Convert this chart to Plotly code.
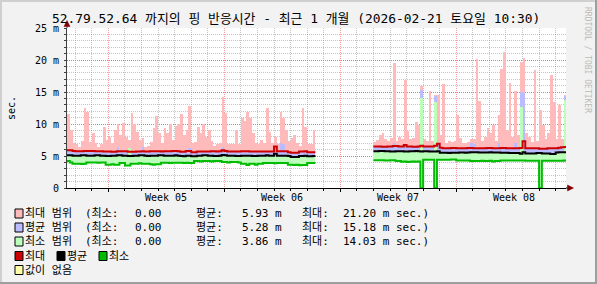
import numpy as np
import pandas as pd
import plotly.graph_objects as go

# ---------------- data (values in milliseconds, 4-hour bins) ----------------
seg1_start = "2026-01-23 12:00"
seg2_start = "2026-02-11 00:00"
bin_hours = 4

pink1 = [11.6, 9.0, 7.0, 6.8, 6.4, 7.4, 12.5, 11.8, 7.2, 8.6,
         7.0, 6.4, 6.8, 9.5, 7.5, 8.0, 7.0, 9.0, 10.0, 8.3,
         10.2, 8.0, 7.5, 11.7, 10.0, 8.8, 7.5, 7.8, 6.4, 6.5,
         7.2, 9.4, 11.2, 8.6, 7.0, 9.4, 8.6, 10.0, 7.5, 9.7,
         10.0, 11.5, 8.3, 9.0, 12.8, 7.0, 7.2, 9.5, 8.6, 10.0,
         8.0, 9.0, 7.3, 6.5, 6.8, 7.0, 14.2, 11.7, 6.8, 6.8,
         6.8, 9.0, 6.8, 11.0, 10.5, 11.9, 11.0, 8.6, 7.0, 6.8,
         7.5, 7.0, 12.5, 8.8, 7.0, 8.0, 6.8, 11.9, 11.0, 9.0,
         7.3, 7.8, 8.3, 7.0, 6.5, 12.5, 9.5, 6.8, 6.8, 9.0]
red1 = [5.9, 5.9, 5.8, 5.75, 5.75, 5.75, 5.8, 5.8, 5.8, 5.8,
        5.75, 5.75, 5.75, 5.7, 5.7, 5.7, 5.65, 5.65, 5.75, 5.75,
        5.75, 5.75, 5.65, 5.65, 5.65, 5.7, 5.7, 5.75, 5.7, 5.7,
        5.75, 5.75, 5.75, 5.75, 5.7, 5.75, 5.75, 5.75, 5.8, 5.8,
        5.75, 5.65, 5.65, 5.8, 5.8, 5.6, 5.6, 5.7, 5.7, 5.7,
        5.7, 5.7, 5.75, 5.75, 5.7, 5.75, 5.9, 5.8, 5.7, 5.7,
        5.7, 5.7, 5.7, 5.75, 5.75, 5.75, 5.7, 5.7, 5.7, 5.7,
        5.7, 5.7, 5.7, 5.7, 5.7, 6.5, 5.75, 5.75, 5.75, 5.75,
        5.6, 5.5, 5.5, 5.5, 5.7, 5.7, 5.75, 5.6, 5.6, 5.6]
black1 = [5.1, 5.1, 5.05, 5.05, 5.05, 5.1, 5.1, 5.05, 5.05, 5.05,
          5.1, 5.1, 5.05, 5.05, 5.0, 5.0, 5.05, 5.05, 5.1, 5.1,
          5.05, 5.05, 5.0, 5.0, 5.05, 5.05, 5.1, 5.1, 5.05, 5.0,
          5.05, 5.05, 5.05, 5.1, 5.1, 5.05, 5.05, 5.05, 5.05, 5.1,
          5.05, 5.0, 4.95, 5.05, 5.05, 4.95, 4.95, 5.05, 5.05, 5.1,
          5.1, 5.05, 5.05, 5.0, 5.0, 5.05, 5.15, 5.1, 5.05, 5.05,
          5.05, 5.0, 5.0, 5.05, 5.05, 5.05, 5.05, 5.0, 5.0, 5.05,
          5.05, 5.05, 5.1, 5.05, 5.05, 5.35, 5.05, 5.05, 5.05, 5.05,
          5.0, 4.85, 4.85, 4.85, 5.0, 5.0, 5.05, 4.95, 4.95, 5.0]
green1 = [4.2, 4.0, 3.8, 3.8, 3.8, 3.75, 3.8, 4.0, 4.0, 4.0,
          4.0, 3.95, 4.0, 4.0, 3.65, 3.65, 3.7, 3.65, 3.65, 3.9,
          3.9, 3.5, 3.5, 3.8, 3.8, 3.8, 3.85, 3.8, 3.8, 3.8,
          3.7, 3.65, 3.7, 3.7, 3.95, 3.95, 3.95, 3.9, 3.95, 3.95,
          3.95, 3.95, 3.9, 3.95, 3.9, 3.9, 4.2, 4.2, 4.15, 4.2,
          4.2, 4.2, 4.15, 4.2, 4.2, 4.2, 4.05, 4.05, 4.0, 4.05,
          4.05, 4.05, 4.0, 3.8, 3.8, 3.6, 3.8, 3.8, 3.65, 3.8,
          3.8, 3.9, 3.9, 3.9, 3.9, 3.85, 3.9, 3.9, 3.9, 3.9,
          3.65, 3.65, 3.6, 3.65, 3.55, 3.6, 3.6, 3.9, 3.9, 3.9]
lav_spike_bins1 = [18, 27, 44, 56, 77, 78]
lav_spike_vals1 = [6.4, 6.4, 6.3, 6.4, 7.0, 6.8]
grn_spike_bins1 = [22]
grn_spike_vals1 = [6.3]

pink2 = [7.2, 7.5, 8.3, 8.6, 7.6, 7.4, 7.8, 19.5, 7.4, 8.0,
         7.6, 16.9, 8.9, 7.6, 7.8, 10.3, 9.8, 15.9, 7.6, 7.4,
         15.2, 7.4, 14.6, 14.5, 8.3, 16.2, 7.0, 7.4, 7.2, 7.4,
         11.4, 7.8, 7.0, 7.0, 7.2, 7.7, 7.7, 20.1, 13.6, 7.4,
         8.0, 9.4, 8.6, 9.8, 7.4, 11.4, 18.6, 21.2, 9.0, 16.4,
         8.0, 15.1, 8.3, 19.7, 20.3, 8.6, 8.0, 7.2, 18.4, 7.4,
         12.2, 9.8, 7.6, 8.6, 17.7, 13.5, 7.7, 13.0, 7.7, 14.5]
red2 = [6.5, 6.5, 6.5, 6.45, 6.45, 6.5, 6.5, 6.55, 6.55, 6.5,
        6.5, 6.7, 6.5, 6.5, 6.45, 6.45, 6.5, 6.6, 6.5, 6.5,
        6.5, 6.5, 6.6, 6.9, 6.3, 6.2, 6.2, 6.2, 6.25, 6.25,
        6.2, 6.2, 6.2, 6.2, 6.25, 6.25, 6.2, 6.2, 6.2, 6.2,
        6.2, 6.25, 6.25, 6.2, 6.2, 6.2, 6.25, 6.25, 6.2, 6.2,
        6.2, 6.2, 6.2, 6.25, 7.3, 6.2, 6.2, 6.2, 6.2, 6.2,
        6.15, 6.15, 6.15, 6.2, 6.2, 6.2, 6.2, 6.3, 6.35, 6.4]
black2 = [5.75, 5.75, 5.8, 5.8, 5.75, 5.75, 5.7, 5.7, 5.75, 5.75,
          5.75, 5.7, 5.7, 5.75, 5.75, 5.8, 5.75, 5.7, 5.75, 5.75,
          5.7, 5.7, 5.7, 5.75, 5.5, 5.5, 5.5, 5.45, 5.5, 5.5,
          5.5, 5.55, 5.55, 5.5, 5.55, 5.6, 5.6, 5.6, 5.55, 5.55,
          5.55, 5.55, 5.6, 5.55, 5.55, 5.55, 5.5, 5.5, 5.5, 5.45,
          5.45, 5.45, 5.45, 5.35, 5.6, 5.4, 5.4, 5.4, 5.4, 5.45,
          5.45, 5.4, 5.4, 5.4, 5.3, 5.3, 5.55, 5.6, 5.6, 5.6]
green2 = [4.35, 4.35, 4.35, 4.35, 4.3, 4.3, 4.35, 4.35, 4.2, 4.2,
          4.1, 4.15, 4.05, 4.1, 4.15, 4.1, 4.15, 0.0, 4.4, 4.4,
          4.4, 4.4, 0.0, 4.4, 4.4, 4.4, 4.4, 4.4, 4.45, 4.45,
          4.3, 4.3, 4.3, 4.3, 4.3, 4.2, 4.2, 4.2, 4.2, 4.25,
          4.2, 4.2, 4.25, 4.15, 4.2, 4.2, 4.3, 4.3, 4.3, 4.3,
          4.3, 4.3, 4.3, 4.3, 4.3, 4.25, 4.25, 4.25, 4.25, 4.25,
          0.0, 4.25, 4.25, 4.25, 4.25, 4.25, 4.25, 4.25, 4.25, 4.3]
lav_spike_bins2 = [7, 17, 22, 35, 36, 45, 51, 53, 54, 69]
lav_spike_vals2 = [7.0, 15.3, 14.3, 7.0, 6.9, 7.1, 7.0, 15.0, 14.8, 14.3]
grn_spike_bins2 = [17, 22, 53, 69]
grn_spike_vals2 = [14.0, 13.4, 12.7, 13.8]

# axis / labels
x_range = ["2026-01-23 12:00", "2026-02-22 15:00"]
week_start = "2026-01-26"
week_label_pos = ["2026-01-29 12:00", "2026-02-05 12:00", "2026-02-12 12:00", "2026-02-19 12:00"]
week_labels = ["Week 05", "Week 06", "Week 07", "Week 08"]
y_tickvals = [0, 5, 10, 15, 20, 25]
y_ticktext = ["0", "5 m", "10 m", "15 m", "20 m", "25 m"]

title_text = "52.79.52.64 까지의 핑 반응시간 - 최근 1 개월 (2026-02-21 토요일 10:30)"
range_names = ["최대 범위", "평균 범위", "최소 범위"]
stat_min = ["0.00", "0.00", "0.00"]
stat_avg = ["5.93 m", "5.28 m", "3.86 m"]
stat_max = ["21.20 m", "15.18 m", "14.03 m"]
line_names = ["최대", "평균", "최소"]
nodata_name = "값이 없음"

# ---------------- styles ----------------
C_PINK, C_LAV, C_LGRN = "#FFBBBB", "#BBBBFF", "#BBFFBB"
C_RED, C_BLK, C_GRN, C_YEL = "#CC0000", "#000000", "#00BB00", "#FFFFAA"
MONO = "DejaVu Sans Mono, Noto Sans CJK KR, monospace"
W, H = 597, 284
L, R, T, B = 67, 31, 28, 96
PW, PH = W - L - R, H - T - B


def px(x):
    return (x - L) / PW


def py(y):
    return (T + PH - y) / PH


step = pd.Timedelta(hours=bin_hours)
x1 = pd.date_range(seg1_start, periods=len(pink1), freq=step)
x2 = pd.date_range(seg2_start, periods=len(pink2), freq=step)


def tops(base, bins, vals):
    a = np.array(base, dtype=float)
    for b, v in zip(bins, vals):
        a[b] = max(a[b], v)
    return a


lav1 = tops(red1, lav_spike_bins1, lav_spike_vals1)
lav2 = tops(red2, lav_spike_bins2, lav_spike_vals2)
gt1 = tops(black1, grn_spike_bins1, grn_spike_vals1)
gt2 = tops(black2, grn_spike_bins2, grn_spike_vals2)

xb = list(x1) + list(x2)
blk = np.array(black1 + black2)
grn = np.array(green1 + green2)
pink = np.array(pink1 + pink2)
lav = np.concatenate([lav1, lav2])
gtop = np.concatenate([gt1, gt2])

fig = go.Figure()
bw = step.total_seconds() * 1000
fig.add_bar(x=xb, y=pink - blk, base=blk, width=bw, offset=0,
            marker=dict(color=C_PINK, line=dict(width=0)))
fig.add_bar(x=xb, y=lav - blk, base=blk, width=bw, offset=0,
            marker=dict(color=C_LAV, line=dict(width=0)))
fig.add_bar(x=xb, y=gtop - grn, base=grn, width=bw, offset=0,
            marker=dict(color=C_LGRN, line=dict(width=0)))


def step_line(v1, v2):
    xs = list(x1) + [x1[-1] + step, None] + list(x2) + [x2[-1] + step]
    ys = list(v1) + [v1[-1], None] + list(v2) + [v2[-1]]
    return xs, ys


for a1, a2, col in [(green1, green2, C_GRN), (black1, black2, C_BLK), (red1, red2, C_RED)]:
    xs, ys = step_line(a1, a2)
    fig.add_scatter(x=xs, y=ys, mode="lines", line=dict(color=col, width=2, shape="hv"),
                    connectgaps=False)

GRID = "rgba(150,150,150,0.55)"
MGRID = "rgba(230,60,60,0.5)"

fig.update_layout(
    width=W, height=H, margin=dict(l=L, r=R, t=T, b=B),
    paper_bgcolor="#F2F2F2", plot_bgcolor="#FFFFFF",
    showlegend=False, barmode="overlay", bargap=0,
    font=dict(family=MONO, size=10, color="#000000"),
    title=dict(text=title_text, x=0.496, xref="container", xanchor="center",
               y=1 - 18.5 / H, yref="container", yanchor="middle",
               font=dict(family=MONO, size=12.9, color="#000000")),
    xaxis=dict(type="date", range=x_range, showticklabels=False,
               tick0=week_start, dtick=7 * 86400000,
               showgrid=True, gridcolor=MGRID, griddash="1px,1px", gridwidth=1,
               ticks="outside", ticklen=3, tickcolor="#000000",
               minor=dict(tick0=week_start, dtick=86400000, showgrid=True,
                          gridcolor=GRID, griddash="1px,1px", ticks="outside",
                          ticklen=2, tickcolor="#000000"),
               showline=True, linecolor="#000000", linewidth=1, zeroline=False),
    yaxis=dict(range=[0, 25], tickvals=y_tickvals, ticktext=y_ticktext,
               showgrid=True, gridcolor=MGRID, griddash="1px,1px", gridwidth=1,
               ticks="outside", ticklen=2, tickcolor="#404040",
               ticklabelstandoff=3,
               minor=dict(dtick=1, showgrid=True, gridcolor=GRID, griddash="1px,1px",
                          ticks="outside", ticklen=2, tickcolor="#404040"),
               tickfont=dict(family=MONO, size=10),
               showline=True, linecolor="#404040", linewidth=1, zeroline=False),
)

ann = []
for pos, lab in zip(week_label_pos, week_labels):
    ann.append(dict(x=pos, xref="x", y=py(197), yref="paper", text=lab, showarrow=False,
                    xanchor="center", yanchor="middle", font=dict(family=MONO, size=10)))
ann.append(dict(x=px(11), y=py(108), xref="paper", yref="paper", text="sec.", textangle=-90,
                showarrow=False, xanchor="center", yanchor="middle", font=dict(family=MONO, size=10)))
ann.append(dict(x=px(587), y=py(60), xref="paper", yref="paper", text="RRDTOOL / TOBI OETIKER",
                textangle=90, showarrow=False, xanchor="center", yanchor="middle",
                font=dict(family=MONO, size=8, color="#BBBBBB")))

shapes = []

# axis extensions and arrow heads
shapes.append(dict(type="line", xref="paper", yref="paper", x0=px(67), x1=px(67), y0=py(28), y1=py(24),
                   line=dict(color="#404040", width=1)))
shapes.append(dict(type="line", xref="paper", yref="paper", x0=px(566), x1=px(569), y0=py(188), y1=py(188),
                   line=dict(color="#000000", width=1)))
shapes.append(dict(type="path", xref="paper", yref="paper",
                   path=f"M {px(67)},{py(20.5)} L {px(64)},{py(26.5)} L {px(70)},{py(26.5)} Z",
                   fillcolor="#7F0000", line=dict(color="#7F0000", width=0.5)))
shapes.append(dict(type="path", xref="paper", yref="paper",
                   path=f"M {px(573.5)},{py(188)} L {px(567.5)},{py(185)} L {px(567.5)},{py(191)} Z",
                   fillcolor="#7F0000", line=dict(color="#7F0000", width=0.5)))


def square(x, yc, col):
    shapes.append(dict(type="rect", xref="paper", yref="paper", x0=px(x), x1=px(x + 8),
                       y0=py(yc + 4.5), y1=py(yc - 4.5), fillcolor=col,
                       line=dict(color="#000000", width=1)))


def label(x, yc, text, anchor="left"):
    ann.append(dict(x=px(x), y=py(yc), xref="paper", yref="paper", text=text, showarrow=False,
                    xanchor=anchor, yanchor="middle", font=dict(family=MONO, size=11)))


row_y = [213.5, 227.5, 241.5, 256, 270]
for k, (nm, col) in enumerate(zip(range_names, [C_PINK, C_LAV, C_LGRN])):
    yc = row_y[k]
    square(15, yc, col)
    label(23, yc, nm)
    label(83, yc, "(최소:")
    label(164, yc, stat_min[k], "right")
    label(194, yc, "평균:")
    label(284, yc, stat_avg[k], "right")
    label(300, yc, "최대:")
    label(341, yc, stat_max[k] + " sec.)")
for xs_, nm, col in zip([15, 57, 99], line_names, [C_RED, C_BLK, C_GRN]):
    square(xs_, row_y[3], col)
    label(xs_ + 8, row_y[3], nm)
square(15, row_y[4], C_YEL)
label(23, row_y[4], nodata_name)

# frame (3D border)
shapes.append(dict(type="rect", xref="paper", yref="paper", x0=px(0), x1=px(W), y0=py(2), y1=py(0),
                   fillcolor="#CFCFCF", line=dict(width=0)))
shapes.append(dict(type="rect", xref="paper", yref="paper", x0=px(0), x1=px(2), y0=py(H), y1=py(0),
                   fillcolor="#CFCFCF", line=dict(width=0)))
shapes.append(dict(type="rect", xref="paper", yref="paper", x0=px(0), x1=px(W), y0=py(H), y1=py(H - 2),
                   fillcolor="#9E9E9E", line=dict(width=0)))
shapes.append(dict(type="rect", xref="paper", yref="paper", x0=px(W - 2), x1=px(W), y0=py(H), y1=py(0),
                   fillcolor="#9E9E9E", line=dict(width=0)))

fig.update_layout(annotations=ann, shapes=shapes)
fig.write_html("out.html")
